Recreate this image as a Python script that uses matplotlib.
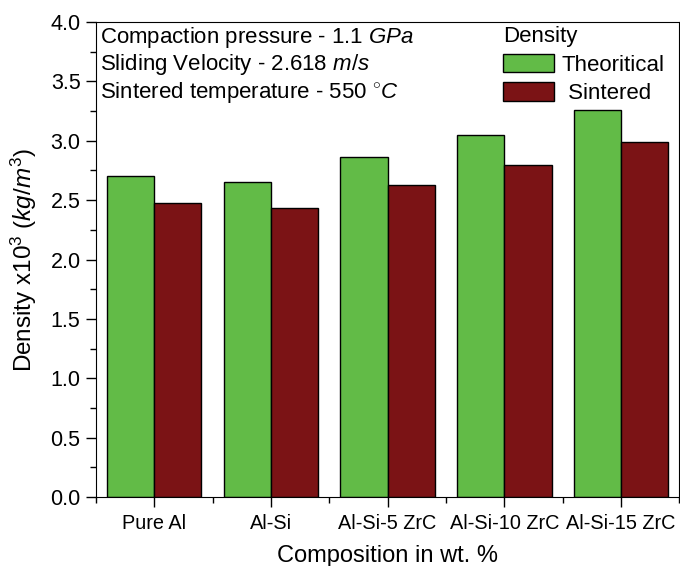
import matplotlib
matplotlib.use("Agg")
import matplotlib.pyplot as plt
import numpy as np
from matplotlib.ticker import MultipleLocator

plt.rcParams['font.family'] = ['Liberation Sans', 'DejaVu Sans']
plt.rcParams['mathtext.fontset'] = 'custom'
plt.rcParams['mathtext.rm'] = 'Liberation Sans'
plt.rcParams['mathtext.it'] = 'Liberation Sans:italic'

categories = ["Pure Al", "Al-Si", "Al-Si-5 ZrC", "Al-Si-10 ZrC", "Al-Si-15 ZrC"]
theoretical = [2.70, 2.65, 2.86, 3.05, 3.26]
sintered = [2.48, 2.43, 2.625, 2.80, 2.99]

fig = plt.figure(figsize=(6.8, 5.66), dpi=100)
ax = fig.add_axes([0.141, 0.122, 0.858, 0.839])

x = np.arange(len(categories))
w = 0.405
ax.bar(x - w / 2, theoretical, w, color="#62BB47", edgecolor="black", linewidth=1, label="Theoritical")
ax.bar(x + w / 2, sintered, w, color="#7B1315", edgecolor="black", linewidth=1, label=" Sintered")

ax.set_xlim(-0.5, 4.5)
ax.set_ylim(0, 4.0)
ax.set_xticks(x)
ax.set_xticklabels(categories, fontsize=14.3)
ax.xaxis.set_minor_locator(MultipleLocator(0.5))
ax.yaxis.set_major_locator(MultipleLocator(0.5))
ax.yaxis.set_minor_locator(MultipleLocator(0.25))
ax.yaxis.set_major_formatter(matplotlib.ticker.FormatStrFormatter('%.1f'))
ax.tick_params(axis='y', labelsize=15.5, pad=4)
ax.tick_params(which='major', direction='out', length=7, width=1)
ax.tick_params(which='minor', direction='out', length=4, width=1)
ax.tick_params(axis='x', which='major', pad=5)

ax.set_xlabel("Composition in wt. %", fontsize=17, labelpad=9)
ax.set_ylabel(r"Density x10$^3$ ($kg/m^3$)", fontsize=17.5, labelpad=8)

ax.text(0.007, 0.967, r"Compaction pressure - 1.1 $GPa$", transform=ax.transAxes, fontsize=16, va='center')
ax.text(0.007, 0.910, r"Sliding Velocity - 2.618 $m/s$", transform=ax.transAxes, fontsize=16, va='center')
ax.text(0.007, 0.851, r"Sintered temperature - 550 $^{\circ}C$", transform=ax.transAxes, fontsize=16, va='center')

leg = ax.legend(title="Density", loc='upper left', bbox_to_anchor=(503 / 680, 1 - 26 / 566),
                bbox_transform=fig.transFigure, frameon=False, borderpad=0, borderaxespad=0,
                fontsize=16, title_fontsize=16, handlelength=2.3, handleheight=0.9,
                handletextpad=0.35, labelspacing=0.3, alignment='left')

fig.savefig("out.png", dpi=100)
